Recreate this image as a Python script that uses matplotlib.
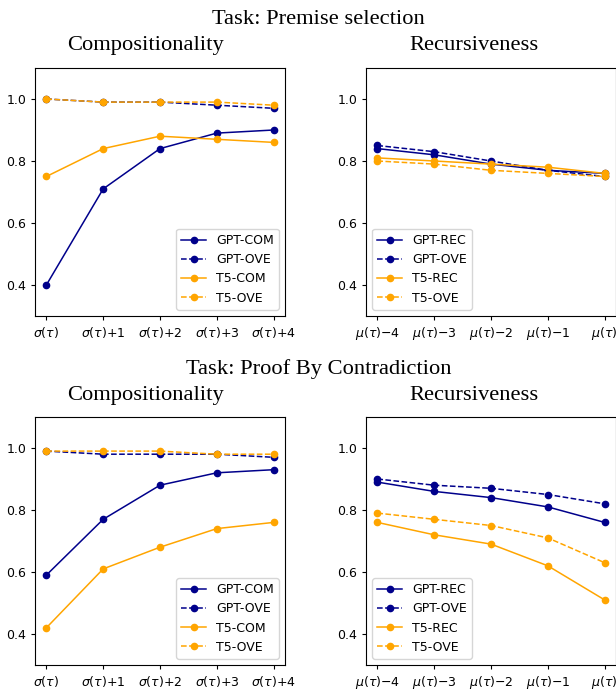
import matplotlib
matplotlib.use("Agg")
import matplotlib.pyplot as plt

# x tick labels
com_labels = [r'$\sigma(\tau)$', r'$\sigma(\tau)$+1', r'$\sigma(\tau)$+2', r'$\sigma(\tau)$+3', r'$\sigma(\tau)$+4']
rec_labels = [r'$\mu(\tau)$−4', r'$\mu(\tau)$−3', r'$\mu(\tau)$−2', r'$\mu(\tau)$−1', r'$\mu(\tau)$']

# Task: Premise selection
ps_gpt_com = [0.40, 0.71, 0.84, 0.89, 0.90]
ps_gpt_com_ove = [1.00, 0.99, 0.99, 0.98, 0.97]
ps_t5_com = [0.75, 0.84, 0.88, 0.87, 0.86]
ps_t5_com_ove = [1.00, 0.99, 0.99, 0.99, 0.98]

ps_gpt_rec = [0.84, 0.82, 0.79, 0.77, 0.76]
ps_gpt_rec_ove = [0.85, 0.83, 0.80, 0.77, 0.75]
ps_t5_rec = [0.81, 0.80, 0.79, 0.78, 0.76]
ps_t5_rec_ove = [0.80, 0.79, 0.77, 0.76, 0.75]

# Task: Proof By Contradiction
pc_gpt_com = [0.59, 0.77, 0.88, 0.92, 0.93]
pc_gpt_com_ove = [0.99, 0.98, 0.98, 0.98, 0.97]
pc_t5_com = [0.42, 0.61, 0.68, 0.74, 0.76]
pc_t5_com_ove = [0.99, 0.99, 0.99, 0.98, 0.98]

pc_gpt_rec = [0.89, 0.86, 0.84, 0.81, 0.76]
pc_gpt_rec_ove = [0.90, 0.88, 0.87, 0.85, 0.82]
pc_t5_rec = [0.76, 0.72, 0.69, 0.62, 0.51]
pc_t5_rec_ove = [0.79, 0.77, 0.75, 0.71, 0.63]

blue = 'darkblue'
orange = 'orange'
serif = 'Liberation Serif'

plt.rcParams['font.size'] = 9
plt.rcParams['xtick.major.size'] = 3.2
plt.rcParams['ytick.major.size'] = 3.2
plt.rcParams['xtick.major.pad'] = 3.2
plt.rcParams['ytick.major.pad'] = 3.2

fig = plt.figure(figsize=(6.16, 6.9), dpi=100)

W, H = 616, 690


def make_ax(x0, y_top):
    return fig.add_axes([x0 / W, (H - y_top - 248) / H, 250 / W, 248 / H])


def draw(ax, labels, series, names, loc):
    x = list(range(len(labels)))
    styles = [(blue, '-'), (blue, '--'), (orange, '-'), (orange, '--')]
    for ys, name, (c, ls) in zip(series, names, styles):
        ax.plot(x, ys, color=c, linestyle=ls, marker='o', markersize=4.5,
                linewidth=1.1, label=name)
    ax.set_xticks(x)
    ax.set_xticklabels(labels)
    ax.set_ylim(0.3, 1.1)
    ax.set_yticks([0.4, 0.6, 0.8, 1.0])
    ax.legend(loc=loc)


ax1 = make_ax(35, 68)
draw(ax1, com_labels, [ps_gpt_com, ps_gpt_com_ove, ps_t5_com, ps_t5_com_ove],
     ['GPT-COM', 'GPT-OVE', 'T5-COM', 'T5-OVE'], 'lower right')
ax2 = make_ax(366, 68)
draw(ax2, rec_labels, [ps_gpt_rec, ps_gpt_rec_ove, ps_t5_rec, ps_t5_rec_ove],
     ['GPT-REC', 'GPT-OVE', 'T5-REC', 'T5-OVE'], 'lower left')
ax3 = make_ax(35, 417)
draw(ax3, com_labels, [pc_gpt_com, pc_gpt_com_ove, pc_t5_com, pc_t5_com_ove],
     ['GPT-COM', 'GPT-OVE', 'T5-COM', 'T5-OVE'], 'lower right')
ax4 = make_ax(366, 417)
draw(ax4, rec_labels, [pc_gpt_rec, pc_gpt_rec_ove, pc_t5_rec, pc_t5_rec_ove],
     ['GPT-REC', 'GPT-OVE', 'T5-REC', 'T5-OVE'], 'lower left')

# titles
def ftext(x, y, s):
    fig.text(x / W, 1 - y / H, s, ha='center', va='baseline',
             family=serif, fontsize=16.2)

ftext(318.5, 24, 'Task: Premise selection')
ftext(145, 50, 'Compositionality')
ftext(474, 50, 'Recursiveness')
ftext(318.5, 374, 'Task: Proof By Contradiction')
ftext(145, 400, 'Compositionality')
ftext(474, 400, 'Recursiveness')

fig.savefig('out.png', dpi=100)
